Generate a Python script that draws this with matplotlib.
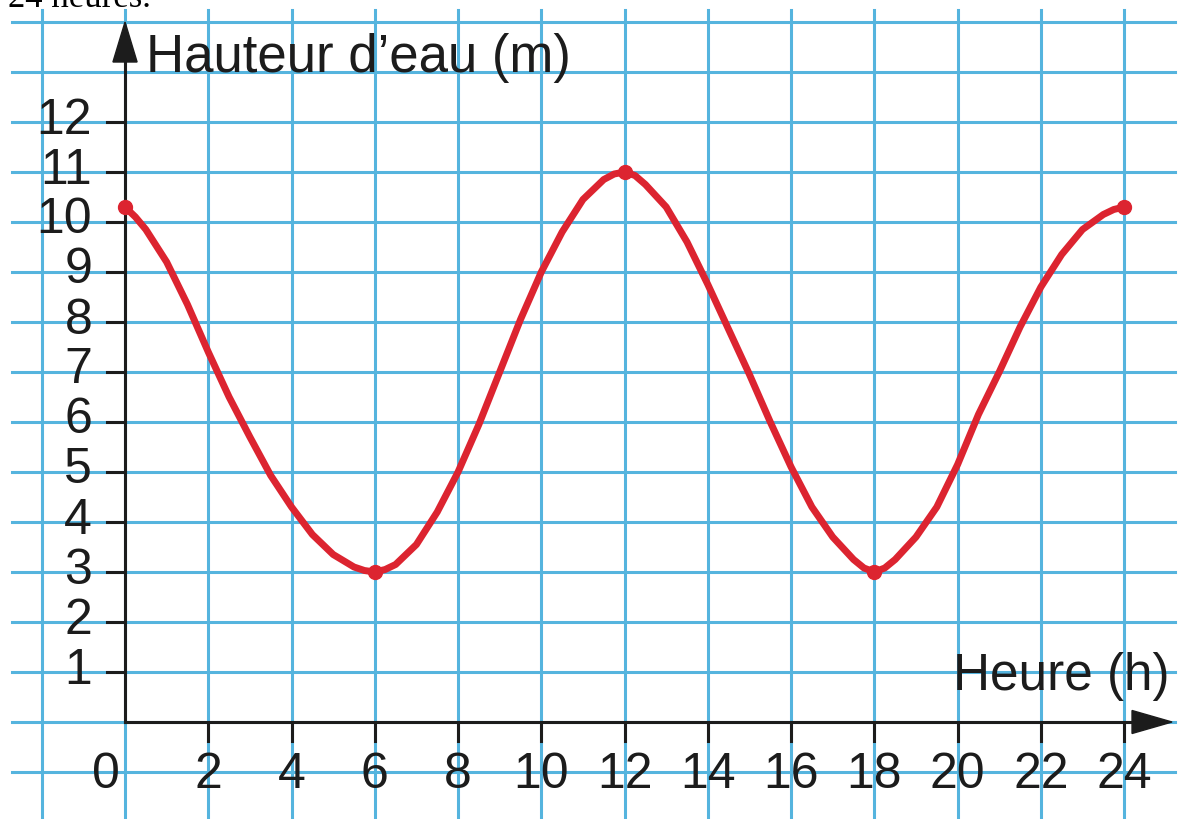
import matplotlib
matplotlib.use("Agg")
import matplotlib.pyplot as plt

# hauteur d'eau (demi-heures, quarts d'heure pres des extremes)
heures = [0, 0.25, 0.5, 1, 1.5, 2, 2.5, 3, 3.5, 4, 4.5, 5, 5.5, 5.75,
          6, 6.25, 6.5, 7, 7.5, 8, 8.5, 9, 9.5, 10, 10.5, 11, 11.5, 11.75,
          12, 12.25, 12.5, 13, 13.5, 14, 14.5, 15, 15.5, 16, 16.5, 17, 17.5, 17.75,
          18, 18.25, 18.5, 19, 19.5, 20, 20.5, 21, 21.5, 22, 22.5, 23, 23.5, 23.75, 24]
hauteurs = [10.3, 10.1, 9.85, 9.2, 8.35, 7.4, 6.5, 5.7, 4.93, 4.3, 3.75, 3.35, 3.1, 3.03,
            3.0, 3.05, 3.15, 3.55, 4.2, 5.0, 5.95, 7.0, 8.05, 9.0, 9.8, 10.45, 10.85, 10.96,
            11.0, 10.93, 10.75, 10.3, 9.6, 8.75, 7.85, 6.95, 6.0, 5.1, 4.3, 3.7, 3.25, 3.08,
            3.0, 3.08, 3.25, 3.7, 4.3, 5.15, 6.15, 7.0, 7.9, 8.7, 9.35, 9.85, 10.15, 10.25, 10.3]

# points marques (pleines et basses mers)
points_h = [0, 6, 12, 18, 24]
points_v = [10.3, 3.0, 11.0, 3.0, 10.3]

ticks_y = list(range(1, 13))
ticks_x = list(range(0, 25, 2))

bleu = '#55b4de'
noir = '#1c1c1c'
rouge = '#dc2430'
police = ['Liberation Sans', 'DejaVu Sans']


def main():
    fig = plt.figure(figsize=(11.82, 8.19), dpi=100)
    ax = fig.add_axes([0, 0, 1, 1])
    ax.set_xlim(-3.003, 25.39)
    ax.set_ylim(-1.94, 14.44)
    ax.axis('off')

    # papier quadrille
    for v in range(-1, 15):
        ax.plot([-2.71, 25.22], [v, v], color=bleu, lw=2.2, zorder=1)
    for h in range(-2, 25, 2):
        ax.plot([h, h], [-1.94, 14.24], color=bleu, lw=2.2, zorder=1)

    # axes avec fleches
    ax.plot([0, 0], [0, 13.2], color=noir, lw=2.2, zorder=3)
    ax.plot([0, 24.2], [0, 0], color=noir, lw=2.2, zorder=3)
    ax.fill([-0.29, 0.29, 0], [13.2, 13.2, 14.0], color=noir, zorder=3)
    ax.fill([24.19, 24.19, 25.15], [0.23, -0.23, 0], color=noir, zorder=3)

    for v in ticks_y:
        ax.plot([-0.43, 0], [v, v], color=noir, lw=2.2, zorder=3)
        ax.text(-0.79, v + 0.03, str(v), ha='right', va='center',
                fontsize=36, color=noir, family=police, zorder=4)
    for h in ticks_x:
        if h > 0:
            ax.plot([h, h], [0, -0.37], color=noir, lw=2.2, zorder=3)
            ax.text(h, -1.05, str(h), ha='center', va='center',
                    fontsize=36, color=noir, family=police, zorder=4)
    ax.text(-0.45, -1.05, '0', ha='center', va='center',
            fontsize=36, color=noir, family=police, zorder=4)

    ax.text(0.5, 13.0, 'Hauteur d\u2019eau (m)', ha='left', va='baseline',
            fontsize=38, color=noir, family=police, zorder=4)
    ax.text(19.9, 0.64, 'Heure (h)', ha='left', va='baseline',
            fontsize=37, color=noir, family=police, zorder=4)

    # courbe de la maree
    ax.plot(heures, hauteurs, color=rouge, lw=5, solid_capstyle='round',
            solid_joinstyle='round', zorder=5)
    ax.plot(points_h, points_v, 'o', color=rouge, markersize=10, zorder=6)

    # bas du texte coupe en haut de l'image
    fig.text(8 / 1182, 1 - 7 / 819, '24 heures.', ha='left', va='baseline',
             fontsize=25, family=['Liberation Serif', 'DejaVu Serif'])

    fig.savefig('out.png', dpi=100, facecolor='white')


if __name__ == '__main__':
    main()
